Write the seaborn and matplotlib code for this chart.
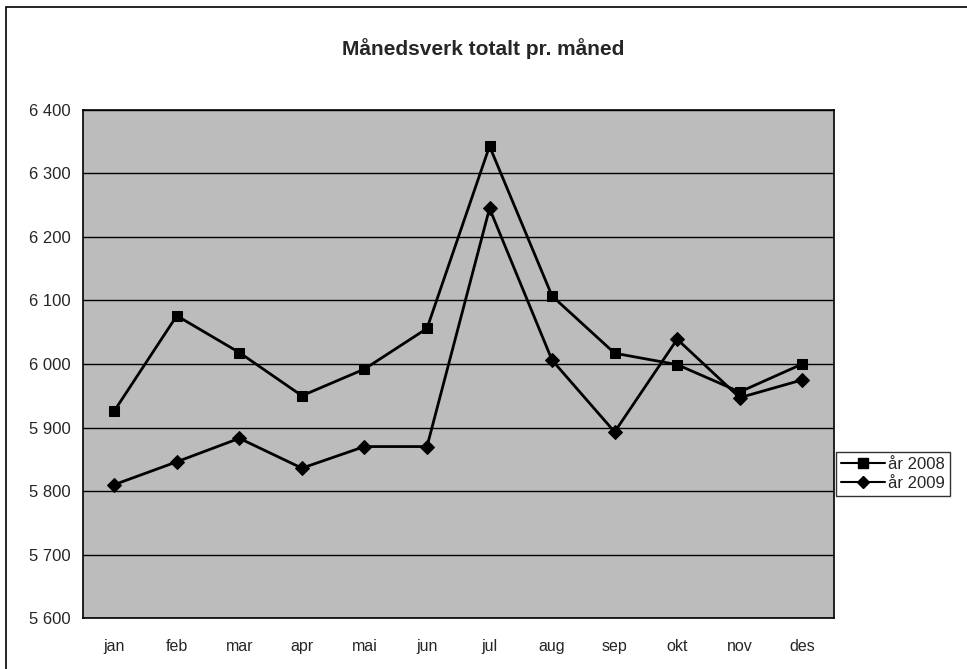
import pandas as pd
import numpy as np
import matplotlib
matplotlib.use('Agg')
import matplotlib.pyplot as plt
import matplotlib.ticker as mticker
import seaborn as sns

months = ['jan', 'feb', 'mar', 'apr', 'mai', 'jun', 'jul', 'aug', 'sep', 'okt', 'nov', 'des']
aar_2008 = [5926, 6076, 6018, 5950, 5992, 6056, 6343, 6107, 6017, 5999, 5956, 6000]
aar_2009 = [5810, 5846, 5883, 5836, 5870, 5870, 6245, 6006, 5893, 6039, 5947, 5975]
series_names = ['år 2008', 'år 2009']

df = pd.DataFrame({
    'pos': list(range(len(months))) * 2,
    'verdi': aar_2008 + aar_2009,
    'serie': [series_names[0]] * len(months) + [series_names[1]] * len(months),
})

sns.set_style('white')
plt.rcParams['font.family'] = ['Liberation Sans', 'DejaVu Sans']

fig = plt.figure(figsize=(9.67, 6.69), dpi=100)
ax = fig.add_axes([0.0858, 0.0762, 0.7762, 0.7594])
ax.set_facecolor('#bcbcbc')

sns.lineplot(data=df, x='pos', y='verdi', hue='serie', style='serie',
             palette=['black', 'black'], markers={'år 2008': 's', 'år 2009': 'D'},
             dashes=False, markersize=7, linewidth=2, ax=ax, legend=False,
             markeredgecolor='black')

ax.set_xlim(-0.5, len(months) - 0.5)
ax.set_ylim(5600, 6400)
ax.yaxis.set_major_locator(mticker.MultipleLocator(100))
ax.yaxis.set_major_formatter(mticker.FuncFormatter(lambda v, p: f'{int(v):,}'.replace(',', ' ')))
ax.grid(axis='y', color='black', linewidth=1)
ax.set_axisbelow(True)

ax.set_xticks(range(len(months)))
ax.set_xticklabels(months)
ax.set_xticks(np.arange(-0.5, len(months), 1), minor=True)
ax.tick_params(axis='x', which='major', length=0, pad=15, labelsize=11.5)
ax.tick_params(axis='x', which='minor', length=5, width=1, color='black', direction='out')
ax.tick_params(axis='y', length=5, width=1, color='black', direction='out', labelsize=12, pad=4)
ax.set_xlabel('')
ax.set_ylabel('')
for s in ax.spines.values():
    s.set_color('black')
    s.set_linewidth(1.2)

fig.text(0.5, 0.928, 'Månedsverk totalt pr. måned', ha='center', va='center',
         fontsize=15, fontweight='bold')

handles = [plt.Line2D([], [], color='black', marker='s', markersize=6.5, linewidth=1.5),
           plt.Line2D([], [], color='black', marker='D', markersize=6, linewidth=1.5)]
leg = fig.legend(handles, series_names, loc='upper left', bbox_to_anchor=(0.865, 0.325),
                 frameon=True, fancybox=False, fontsize=12, handlelength=2.6,
                 handletextpad=0.2, borderpad=0.3, labelspacing=0.25, borderaxespad=0)
leg.get_frame().set_edgecolor('black')
leg.get_frame().set_linewidth(1)

fig.patches.append(plt.Rectangle((0.006, -0.01), 1.0, 1.0, transform=fig.transFigure,
                                 fill=False, edgecolor='black', linewidth=1.2))

fig.savefig('out.png', dpi=100)
